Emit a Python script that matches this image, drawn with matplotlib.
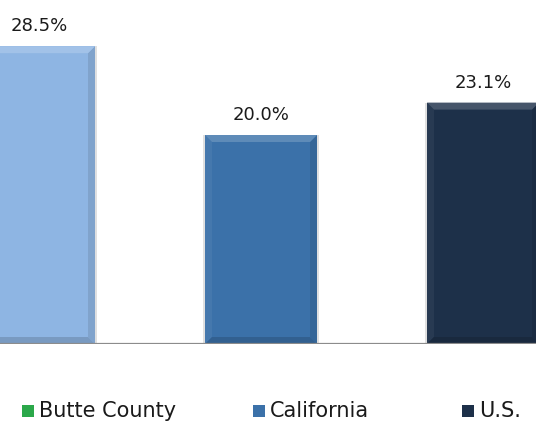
import matplotlib
matplotlib.use("Agg")
import matplotlib.pyplot as plt
from matplotlib.patches import Polygon, Rectangle
from matplotlib.colors import to_rgb

# Share of population (%)
regions = ["Butte County", "California", "U.S."]
values = [28.5, 20.0, 23.1]
bar_colors = ["#8EB5E3", "#3B71A9", "#1D3049"]
legend_colors = ["#2BA84A", "#3B71A9", "#1D3049"]
value_labels = ["28.5%", "20.0%", "23.1%"]

W, H, DPI = 536, 423, 100
fig = plt.figure(figsize=(W / DPI, H / DPI), dpi=DPI)
plt.rcParams["font.family"] = ["DejaVu Sans"]

# axes span the full width; baseline sits near the bottom
base_px = 344
ax = fig.add_axes([0, (H - base_px) / H, 1, base_px / H])
px_per_unit_y = 10.45
ax.set_ylim(0, base_px / px_per_unit_y)
spacing_px = 222
ax.set_xlim(-39 / spacing_px, 2 + (W - 483) / spacing_px)
ax.axis("off")

xs = list(range(len(values)))
width = 112 / spacing_px
bars = ax.bar(xs, values, width=width, color=bar_colors, zorder=3, linewidth=0)

def shade(c, f):
    r, g, b = to_rgb(c)
    if f >= 0:
        return (r + (1 - r) * f, g + (1 - g) * f, b + (1 - b) * f)
    return (r * (1 + f), g * (1 + f), b * (1 + f))

# bevel edges and soft shadow around each bar
bev = 7
dx = bev / spacing_px
dy = bev / px_per_unit_y
sx = 2 / spacing_px
for rect, col in zip(bars, bar_colors):
    x0 = rect.get_x()
    x1 = x0 + rect.get_width()
    y0 = 0
    y1 = rect.get_height()
    ax.add_patch(Rectangle((x0 - sx, y0), (x1 - x0) + 2 * sx, y1,
                           color="#9a9a9a", alpha=0.3, zorder=2, lw=0))
    top = [(x0, y1), (x1, y1), (x1 - dx, y1 - dy), (x0 + dx, y1 - dy)]
    bot = [(x0, y0), (x1, y0), (x1 - dx, y0 + dy), (x0 + dx, y0 + dy)]
    left = [(x0, y0), (x0, y1), (x0 + dx, y1 - dy), (x0 + dx, y0 + dy)]
    right = [(x1, y0), (x1, y1), (x1 - dx, y1 - dy), (x1 - dx, y0 + dy)]
    ax.add_patch(Polygon(left, color=shade(col, 0.05), zorder=4, lw=0))
    ax.add_patch(Polygon(right, color=shade(col, -0.10), zorder=4, lw=0))
    ax.add_patch(Polygon(bot, color=shade(col, -0.15), zorder=4, lw=0))
    ax.add_patch(Polygon(top, color=shade(col, 0.18), zorder=4, lw=0))

ax.axhline(0, color="#8C8C8C", lw=1.6, zorder=5)

# value labels above bars
for x, v, lab in zip(xs, values, value_labels):
    ax.annotate(lab, (x, v), xytext=(0, 15), textcoords="offset pixels",
                ha="center", va="baseline", fontsize=13, color="#1a1a1a")

# legend row along the bottom
legend_marker_px = [22, 253, 462]
marker_size = 12
text_baseline_px = 417
for xp, col, name in zip(legend_marker_px, legend_colors, regions):
    fig.patches.append(Rectangle((xp / W, (H - text_baseline_px) / H),
                                 marker_size / W, marker_size / H,
                                 transform=fig.transFigure, color=col,
                                 figure=fig, lw=0))
    fig.text((xp + marker_size + 5) / W, (H - text_baseline_px) / H, name,
             ha="left", va="baseline", fontsize=15, color="#1a1a1a")

fig.savefig("out.png", dpi=DPI)
